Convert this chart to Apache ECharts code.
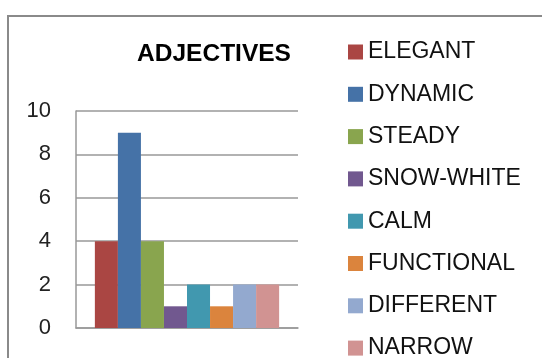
<!DOCTYPE html>
<html>
<head>
<meta charset="utf-8">
<title>ADJECTIVES</title>
<script src="https://cdn.jsdelivr.net/npm/echarts@6/dist/echarts.min.js"></script>
<style>
  * { margin: 0; padding: 0; }
  body { background: #fff; }
  #main { width: 542px; height: 358px; }
</style>
</head>
<body>
<div id="main"></div>
<script>
  // data
  var names = ['ELEGANT', 'DYNAMIC', 'STEADY', 'SNOW-WHITE', 'CALM', 'FUNCTIONAL', 'DIFFERENT', 'NARROW'];
  var values = [4, 9, 4, 1, 2, 1, 2, 2];
  var colors = ['#AA4643', '#4572A7', '#89A54E', '#71588F', '#4198AF', '#DB843D', '#93A9CF', '#D19392'];
  var yTicks = [0, 2, 4, 6, 8, 10];

  var myChart = echarts.init(document.getElementById('main'));

  var series = [];
  for (let i = 0; i < names.length; i++) {
    series.push({
      name: names[i],
      type: 'bar',
      data: [values[i]],
      barGap: 0,
      barCategoryGap: '17%',
      itemStyle: { color: colors[i] }
    });
  }

  var option = {
    animation: false,
    color: colors,
    title: {
      text: 'ADJECTIVES',
      left: 209,
      top: 37,
      textAlign: 'center',
      textStyle: { fontFamily: 'Liberation Sans', fontWeight: 'bold', fontSize: 24.5, color: '#000' }
    },
    legend: {
      orient: 'vertical',
      left: 348,
      top: 40.5,
      height: 330,
      padding: 0,
      icon: 'rect',
      itemWidth: 15,
      itemHeight: 15,
      itemGap: 19.3,
      itemTextGap: 3,
      itemStyle: { borderWidth: 0 },
      textStyle: { fontFamily: 'Liberation Sans', fontSize: 23, color: '#111' },
      data: names
    },
    grid: { left: 76, top: 111, width: 222, height: 217, containLabel: false },
    xAxis: {
      type: 'category',
      data: [''],
      axisLine: { lineStyle: { color: '#999', width: 1.5 } },
      axisTick: { show: false },
      axisLabel: { show: false }
    },
    yAxis: {
      type: 'value',
      min: yTicks[0],
      max: yTicks[yTicks.length - 1],
      interval: 2,
      axisLine: { show: true, lineStyle: { color: '#999', width: 1.5 } },
      axisTick: { show: false },
      axisLabel: { margin: 25, fontFamily: 'Liberation Sans', fontSize: 22, color: '#222' },
      splitLine: { lineStyle: { color: '#999', width: 1.5 } }
    },
    graphic: [{
      type: 'polyline',
      shape: { points: [[8, 358], [8, 16], [542, 16]] },
      style: { stroke: '#8a8a8a', lineWidth: 2, fill: null }
    }],
    series: series
  };

  myChart.setOption(option);
</script>
</body>
</html>
